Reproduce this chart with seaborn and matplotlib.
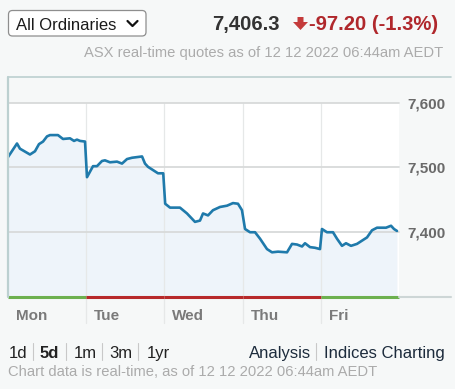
import matplotlib
matplotlib.use("Agg")
import matplotlib.pyplot as plt
import matplotlib.transforms as mtransforms
from matplotlib.patches import FancyBboxPatch, Polygon
from matplotlib.lines import Line2D
import seaborn as sns
import pandas as pd

# ---------------- data ----------------
day_labels = ["Mon", "Tue", "Wed", "Thu", "Fri"]
day_up = [True, False, False, False, True]

# position in trading days (0 = Monday open, 5 = Friday close)
session_pos = [
    0.00, 0.115, 0.153, 0.281, 0.345, 0.396, 0.448, 0.499, 0.537, 0.639,
    0.703, 0.793, 0.844, 0.882, 0.921, 0.985,
    1.010, 1.087, 1.138, 1.202, 1.240, 1.304, 1.394, 1.458, 1.522, 1.586,
    1.650, 1.714, 1.752, 1.790, 1.854, 1.918, 1.985,
    2.010, 2.072, 2.199, 2.289, 2.391, 2.455, 2.494, 2.558, 2.621, 2.711,
    2.801, 2.877, 2.941, 2.992,
    3.031, 3.095, 3.159, 3.223, 3.312, 3.376, 3.453, 3.568, 3.632, 3.696,
    3.760, 3.798, 3.862, 3.926, 3.990,
    4.015, 4.079, 4.156, 4.207, 4.271, 4.322, 4.386, 4.463, 4.527, 4.591,
    4.655, 4.719, 4.834, 4.898, 4.936, 4.974,
]
index_values = [
    7516, 7537, 7529, 7520, 7525, 7536, 7540, 7548, 7550, 7550,
    7544, 7545, 7541, 7543, 7541, 7540,
    7485, 7502, 7502, 7510, 7511, 7508, 7509, 7506, 7513, 7515,
    7516, 7517, 7506, 7501, 7496, 7491, 7491,
    7444, 7438, 7438, 7429, 7416, 7418, 7429, 7426, 7434, 7439,
    7441, 7445, 7444, 7434,
    7405, 7400, 7400, 7390, 7374, 7369, 7370, 7369, 7382, 7381,
    7378, 7383, 7377, 7376, 7374,
    7405, 7400, 7400, 7390, 7379, 7383, 7379, 7382, 7387, 7392,
    7403, 7407, 7407, 7410, 7405, 7402,
]
y_ticks = [7400, 7500, 7600]
y_tick_labels = ["7,400", "7,500", "7,600"]

index_name = "All Ordinaries"
last_price = "7,406.3"
change_text = "-97.20 (-1.3%)"
quote_note = "ASX real-time quotes as of 12 12 2022 06:44am AEDT"
chart_note = "Chart data is real-time, as of 12 12 2022 06:44am AEDT"
range_links = ["1d", "5d", "1m", "3m", "1yr"]
other_links = ["Analysis", "Indices Charting"]

df = pd.DataFrame({"pos": session_pos, "value": index_values})

# ---------------- style ----------------
sns.set_style("white")
plt.rcParams["font.family"] = ["Liberation Sans", "DejaVu Sans"]

W, H = 456, 389
BG = "#f6f8f8"
fig = plt.figure(figsize=(W / 100, H / 100), dpi=100, facecolor=BG)
inch = fig.dpi_scale_trans


def px(x, y):
    return x / 100, (H - y) / 100


def fx(x):
    return x / W


def fy(y):
    return 1 - y / H


left_px, right_px, top_px, bot_px = 8, 399, 102.7, 297
ax = fig.add_axes([fx(left_px), fy(bot_px), (right_px - left_px) / W,
                   (bot_px - top_px) / H])
ax.set_facecolor("white")

# area + line
ax.fill_between(df["pos"], df["value"], 7300, color="#eef4fa", zorder=1, lw=0)
for yv in y_ticks:
    ax.axhline(yv, color="#d8dada", lw=1.3, zorder=1.5, clip_on=False)
for i in range(1, 5):
    ax.axvline(i, ymin=-26 / (bot_px - top_px), ymax=1, color="#e6e8e8",
               lw=0.9, zorder=1.4, clip_on=False)
sns.lineplot(data=df, x="pos", y="value", ax=ax, color="#1f7aab", lw=1.9,
             zorder=3, estimator=None)

# day coloured baseline
for i, up in enumerate(day_up):
    ax.hlines(7300, i, i + 1, colors="#6cb04f" if up else "#b7292b", lw=2.2,
              zorder=4, clip_on=False)

ax.set_xlim(0, 5)
ax.set_ylim(7300, 7600)
ax.set_xlabel("")
ax.set_ylabel("")
ax.set_xticks([])
ax.yaxis.tick_right()
ax.set_yticks(y_ticks)
ax.set_yticklabels(y_tick_labels, fontsize=11, fontweight="bold", color="#6a6a6a")
ax.tick_params(axis="y", length=0, pad=6)
for s in ax.spines.values():
    s.set_visible(False)

# day labels
offset = mtransforms.ScaledTranslation(8 / 100, -22.5 / 100, fig.dpi_scale_trans)
for i, lab in enumerate(day_labels):
    ax.text(i, 0, lab, transform=ax.get_xaxis_transform() + offset,
            ha="left", va="baseline", fontsize=11, fontweight="bold",
            color="#7a7a7a")

# borders
fig.add_artist(Line2D(*zip(px(8, 77), px(451, 77)), transform=inch,
                      color="#bcd0d0", lw=1.2))
fig.add_artist(Line2D(*zip(px(8, 77), px(8, 297)), transform=inch,
                      color="#bcd0d0", lw=1.6))
fig.add_artist(Line2D(*zip(px(399, 297), px(451, 297)), transform=inch,
                      color="#cdd6d6", lw=1.5))

# header
box = FancyBboxPatch(px(8.5, 36)[0:2], 137.5 / 100, 25.5 / 100,
                     boxstyle="round,pad=0,rounding_size=0.04",
                     transform=inch, facecolor="white", edgecolor="#8e8e8e",
                     lw=0.9)
fig.add_artist(box)
fig.text(fx(16), fy(30), index_name, fontsize=12, color="#1a1a1a",
         ha="left", va="baseline")
fig.add_artist(Line2D(*zip(px(127.5, 21), px(132.5, 26), px(137.5, 21)),
                      transform=inch, color="#111111", lw=1.6,
                      solid_capstyle="round", solid_joinstyle="round"))
fig.text(fx(212), fy(30), last_price, fontsize=14.6, fontweight="bold",
         color="#333333", ha="left", va="baseline")
fig.add_artist(Polygon([px(297.5, 17), px(303.5, 17), px(303.5, 22),
                        px(308, 22), px(300.5, 30), px(293, 22),
                        px(297.5, 22)], closed=True, transform=inch,
                       facecolor="#c43b3b", edgecolor="none"))
fig.text(fx(309), fy(30), change_text, fontsize=14.6, fontweight="bold",
         color="#b0282c", ha="left", va="baseline")
fig.text(fx(443), fy(57.5), quote_note, fontsize=10.6, color="#ababab",
         ha="right", va="baseline")

# footer links
link_x = [8.3, 40, 73.3, 109.3, 146.7]
for lab, x in zip(range_links, link_x):
    fig.text(fx(x), fy(358.3), lab, fontsize=12, color="#222222",
             fontweight="bold" if lab == "5d" else "normal",
             ha="left", va="baseline")
for x in [33.3, 65.7, 101.7, 138.3, 315.7]:
    fig.add_artist(Line2D(*zip(px(x, 343), px(x, 360)), transform=inch,
                          color="#c8c8c8", lw=0.8))
for lab, x in zip(other_links, [249.3, 324.3]):
    fig.text(fx(x), fy(358.3), lab, fontsize=12, color="#1c2b3c",
             ha="left", va="baseline")
fig.text(fx(8.3), fy(376), chart_note, fontsize=10.6, color="#ababab",
         ha="left", va="baseline")

fig.savefig("out.png", dpi=100, facecolor=BG)
